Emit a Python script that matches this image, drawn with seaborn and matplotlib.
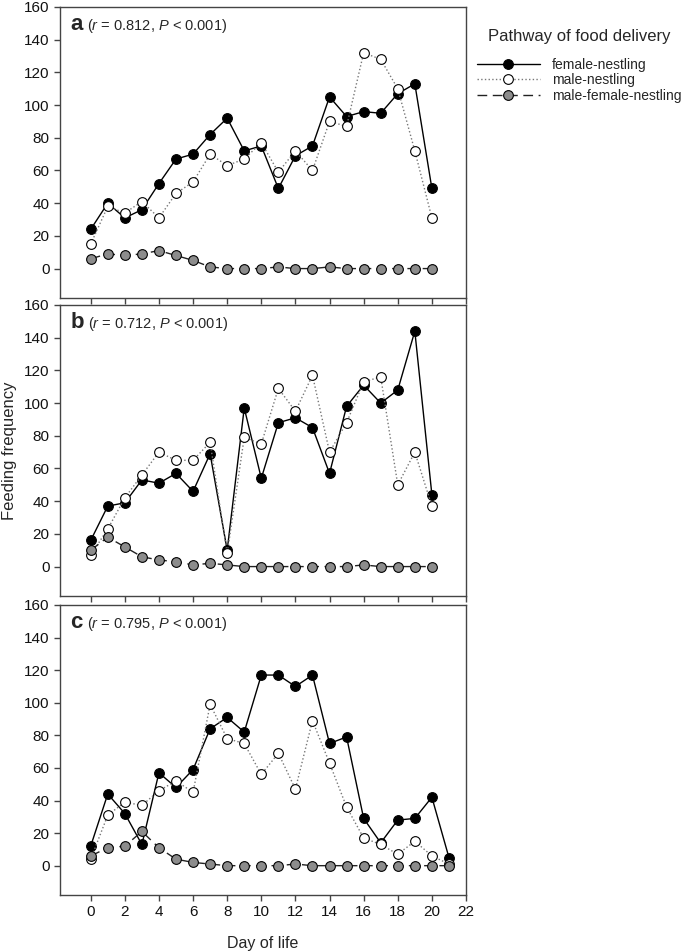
import seaborn as sns
import pandas as pd
import matplotlib.pyplot as plt

# days of life per panel
DAYS_AB = list(range(21))
DAYS_C = list(range(22))

# panel a
A_FEMALE = [24, 40, 31, 36, 52, 67, 70, 82, 92, 72, 75, 49, 69, 75, 105, 93, 96, 95, 107, 113, 49]
A_MALE = [15, 38, 34, 41, 31, 46, 53, 70, 63, 67, 77, 59, 72, 60, 90, 87, 132, 128, 110, 72, 31]
A_BOTH = [6, 9, 8, 9, 11, 8, 5, 1, 0, 0, 0, 1, 0, 0, 1, 0, 0, 0, 0, 0, 0]

# panel b
B_FEMALE = [16, 37, 39, 53, 51, 57, 46, 69, 10, 97, 54, 88, 91, 85, 57, 98, 111, 100, 108, 144, 44]
B_MALE = [7, 23, 42, 56, 70, 65, 65, 76, 8, 79, 75, 109, 95, 117, 70, 88, 113, 116, 50, 70, 37]
B_BOTH = [10, 18, 12, 6, 4, 3, 1, 2, 1, 0, 0, 0, 0, 0, 0, 0, 1, 0, 0, 0, 0]

# panel c
C_FEMALE = [12, 44, 32, 13, 57, 48, 59, 84, 91, 82, 117, 117, 110, 117, 75, 79, 29, 14, 28, 29, 42, 5]
C_MALE = [4, 31, 39, 37, 46, 52, 45, 99, 78, 75, 56, 69, 47, 89, 63, 36, 17, 13, 7, 15, 6, 1]
C_BOTH = [6, 11, 12, 21, 11, 4, 2, 1, 0, 0, 0, 0, 1, 0, 0, 0, 0, 0, 0, 0, 0, 0]

PANELS = [
    ('a', '0.812', DAYS_AB, A_FEMALE, A_MALE, A_BOTH),
    ('b', '0.712', DAYS_AB, B_FEMALE, B_MALE, B_BOTH),
    ('c', '0.795', DAYS_C, C_FEMALE, C_MALE, C_BOTH),
]
SERIES_NAMES = ['female-nestling', 'male-nestling', 'male-female-nestling']

sns.set_style('white')
plt.rcParams.update({
    'font.family': ['Liberation Sans', 'DejaVu Sans'],
    'mathtext.fontset': 'custom',
    'mathtext.rm': 'Liberation Sans',
    'mathtext.it': 'Liberation Sans:italic',
    'axes.edgecolor': '#444444',
    'axes.linewidth': 1.0,
    'xtick.color': '#444444',
    'ytick.color': '#444444',
    'xtick.labelcolor': '#111111',
    'ytick.labelcolor': '#111111',
})

fig = plt.figure(figsize=(6.85, 9.52), dpi=100)

# axes boxes in pixels (top, bottom) -> figure fractions
W, H = 685, 952
left_px, right_px = 60, 466
boxes = [(7, 298), (305, 596), (605, 895)]

styles = [
    dict(color='black', linestyle='-', linewidth=1.0, markerfacecolor='black'),
    dict(color='#777777', linestyle=':', linewidth=1.0, markerfacecolor='white'),
    dict(color='#222222', linestyle=(0, (7, 4)), linewidth=1.0, markerfacecolor='#8c8c8c'),
]

axes = []
for i, (letter, r, days, fem, mal, both) in enumerate(PANELS):
    top, bot = boxes[i]
    ax = fig.add_axes([left_px / W, 1 - bot / H, (right_px - left_px) / W, (bot - top) / H])
    axes.append(ax)
    for name, vals, st in zip(SERIES_NAMES, [fem, mal, both], styles):
        df = pd.DataFrame({'day': days, 'freq': vals})
        sns.lineplot(data=df, x='day', y='freq', ax=ax, label=name,
                     marker='o', markersize=7, markeredgecolor='black',
                     markeredgewidth=0.8, legend=False, **st)
    ax.set_xlim(-1.8, 22)
    ax.set_ylim(-18, 160)
    ax.set_xticks(range(0, 23, 2))
    ax.set_yticks(range(0, 161, 20))
    ax.tick_params(axis='both', direction='out', length=4, width=1, labelsize=11,
                   bottom=True, left=True, top=False, right=False)
    ax.set_xlabel('')
    ax.set_ylabel('')
    if i < 2:
        ax.set_xticklabels([])
    else:
        ax.set_xticklabels([str(t) for t in range(0, 23, 2)])
    lt = ax.text(0.025, 0.921, letter, transform=ax.transAxes, fontsize=16,
                 fontweight='bold', va='baseline', ha='left')
    ax.annotate(r' ($\it{r}$ = ' + r + r', $\it{P}$ < 0.001)', xy=(1, 0), xycoords=lt,
                va='bottom', ha='left', fontsize=10.5)

axes[2].set_xlabel('Day of life', fontsize=11.5, labelpad=12)
fig.text(10 / W, 1 - 451 / H, 'Feeding frequency', rotation=90, fontsize=12,
         ha='center', va='center')

handles, labels = axes[0].get_legend_handles_labels()
leg = fig.legend(handles, labels, loc='upper left', bbox_to_anchor=(477 / W, 1 - 29 / H),
                 frameon=False, title='Pathway of food delivery', title_fontsize=12,
                 fontsize=10, handlelength=4.5, handletextpad=0.9, labelspacing=0.1,
                 borderpad=0, borderaxespad=0)
leg._legend_box.sep = 10

fig.savefig('out.png', dpi=100)
